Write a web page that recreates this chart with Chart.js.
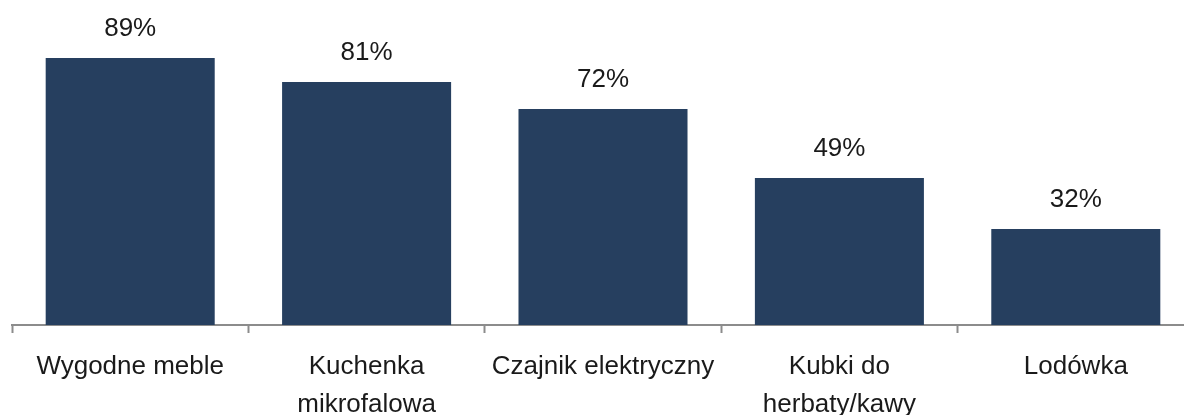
<!DOCTYPE html>
<html>
<head>
<meta charset="utf-8">
<script src="https://cdn.jsdelivr.net/npm/chart.js@4.4.1/dist/chart.umd.min.js"></script>
<style>
  html, body { margin: 0; padding: 0; background: #ffffff; overflow: hidden; }
  #wrap { position: absolute; left: 0; top: 0; width: 1206px; height: 415px; }
</style>
</head>
<body>
<div id="wrap"><canvas id="c"></canvas></div>
<script>
const categories = [
  "Wygodne meble",
  ["Kuchenka", "mikrofalowa"],
  "Czajnik elektryczny",
  ["Kubki do", "herbaty/kawy"],
  "Lodówka"
];
const values = [89, 81, 72, 49, 32];
const valueLabels = ["89%", "81%", "72%", "49%", "32%"];

const FONT = "'Liberation Sans', Arial, sans-serif";

const valueLabelPlugin = {
  id: 'valueLabels',
  afterDatasetsDraw(chart) {
    const ctx = chart.ctx;
    const meta = chart.getDatasetMeta(0);
    ctx.save();
    ctx.font = "26px " + FONT;
    ctx.fillStyle = "#1a1a1a";
    ctx.textAlign = "center";
    ctx.textBaseline = "middle";
    meta.data.forEach((bar, i) => {
      ctx.fillText(valueLabels[i], bar.x, bar.y - 29);
    });
    ctx.restore();
  }
};

new Chart(document.getElementById('c'), {
  type: 'bar',
  data: {
    labels: categories,
    datasets: [{
      data: values,
      backgroundColor: '#263f5f',
      borderWidth: 0,
      categoryPercentage: 1.0,
      barPercentage: 0.715
    }]
  },
  options: {
    responsive: true,
    maintainAspectRatio: false,
    animation: false,
    layout: { padding: { left: 12, right: 12, top: 25, bottom: 0 } },
    plugins: { legend: { display: false }, tooltip: { enabled: false } },
    scales: {
      y: { display: false, min: 0, max: 100 },
      x: {
        afterFit(scale) { scale.height = 90; },
        border: { display: true, color: '#8c8c8c', width: 2 },
        grid: {
          display: true,
          drawOnChartArea: false,
          drawTicks: true,
          tickLength: 8,
          tickWidth: 2,
          tickColor: '#8c8c8c',
          offset: true
        },
        ticks: {
          color: '#1a1a1a',
          padding: 15,
          maxRotation: 0,
          autoSkip: false,
          font: { family: FONT, size: 26, lineHeight: 1.46 }
        }
      }
    }
  },
  plugins: [valueLabelPlugin]
});
</script>
</body>
</html>
